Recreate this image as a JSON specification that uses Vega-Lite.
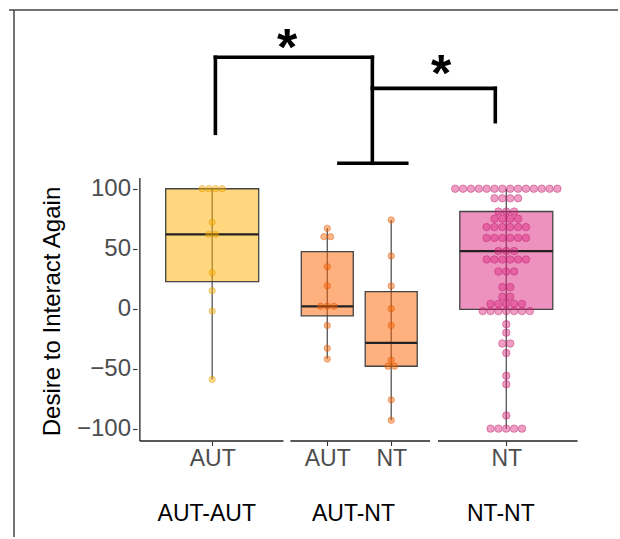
{
  "$schema": "https://vega.github.io/schema/vega-lite/v6.json",
  "usermeta": {"embedOptions": {"actions": false}},
  "width": 609,
  "height": 527,
  "autosize": {"type": "none"},
  "padding": {"left": 9, "top": 10, "right": 0, "bottom": 0},
  "background": "white",
  "config": {"view": {"stroke": null}, "font": "Liberation Sans", "axis": {"grid": false}},
  "datasets": {
    "groups": [
      {"grp": "AUT-AUT/AUT", "pair": "AUT-AUT", "role": "AUT", "pos": 1},
      {"grp": "AUT-NT/AUT", "pair": "AUT-NT", "role": "AUT", "pos": 2.8},
      {"grp": "AUT-NT/NT", "pair": "AUT-NT", "role": "NT", "pos": 3.8},
      {"grp": "NT-NT/NT", "pair": "NT-NT", "role": "NT", "pos": 5.6}
    ],
    "points": [
      {"grp": "AUT-AUT/AUT", "value": 100}, {"grp": "AUT-AUT/AUT", "value": 100}, {"grp": "AUT-AUT/AUT", "value": 100}, {"grp": "AUT-AUT/AUT", "value": 100},
      {"grp": "AUT-AUT/AUT", "value": 72}, {"grp": "AUT-AUT/AUT", "value": 62}, {"grp": "AUT-AUT/AUT", "value": 62}, {"grp": "AUT-AUT/AUT", "value": 30},
      {"grp": "AUT-AUT/AUT", "value": 15}, {"grp": "AUT-AUT/AUT", "value": -2}, {"grp": "AUT-AUT/AUT", "value": -59},
      {"grp": "AUT-NT/AUT", "value": 67}, {"grp": "AUT-NT/AUT", "value": 60}, {"grp": "AUT-NT/AUT", "value": 60}, {"grp": "AUT-NT/AUT", "value": 35},
      {"grp": "AUT-NT/AUT", "value": 19}, {"grp": "AUT-NT/AUT", "value": 2}, {"grp": "AUT-NT/AUT", "value": 2}, {"grp": "AUT-NT/AUT", "value": 2},
      {"grp": "AUT-NT/AUT", "value": -14}, {"grp": "AUT-NT/AUT", "value": -33}, {"grp": "AUT-NT/AUT", "value": -42},
      {"grp": "AUT-NT/NT", "value": 74}, {"grp": "AUT-NT/NT", "value": 44}, {"grp": "AUT-NT/NT", "value": 19}, {"grp": "AUT-NT/NT", "value": 0},
      {"grp": "AUT-NT/NT", "value": -14}, {"grp": "AUT-NT/NT", "value": -43}, {"grp": "AUT-NT/NT", "value": -48}, {"grp": "AUT-NT/NT", "value": -48},
      {"grp": "AUT-NT/NT", "value": -76}, {"grp": "AUT-NT/NT", "value": -93},
      {"grp": "NT-NT/NT", "value": 100}, {"grp": "NT-NT/NT", "value": 100}, {"grp": "NT-NT/NT", "value": 100}, {"grp": "NT-NT/NT", "value": 100},
      {"grp": "NT-NT/NT", "value": 100}, {"grp": "NT-NT/NT", "value": 100}, {"grp": "NT-NT/NT", "value": 100}, {"grp": "NT-NT/NT", "value": 100},
      {"grp": "NT-NT/NT", "value": 100}, {"grp": "NT-NT/NT", "value": 100}, {"grp": "NT-NT/NT", "value": 100}, {"grp": "NT-NT/NT", "value": 100},
      {"grp": "NT-NT/NT", "value": 100}, {"grp": "NT-NT/NT", "value": 100},
      {"grp": "NT-NT/NT", "value": 92}, {"grp": "NT-NT/NT", "value": 92}, {"grp": "NT-NT/NT", "value": 92}, {"grp": "NT-NT/NT", "value": 92},
      {"grp": "NT-NT/NT", "value": 81}, {"grp": "NT-NT/NT", "value": 81}, {"grp": "NT-NT/NT", "value": 81},
      {"grp": "NT-NT/NT", "value": 75}, {"grp": "NT-NT/NT", "value": 75}, {"grp": "NT-NT/NT", "value": 75}, {"grp": "NT-NT/NT", "value": 75},
      {"grp": "NT-NT/NT", "value": 68}, {"grp": "NT-NT/NT", "value": 68}, {"grp": "NT-NT/NT", "value": 68}, {"grp": "NT-NT/NT", "value": 68}, {"grp": "NT-NT/NT", "value": 68}, {"grp": "NT-NT/NT", "value": 68},
      {"grp": "NT-NT/NT", "value": 59}, {"grp": "NT-NT/NT", "value": 59}, {"grp": "NT-NT/NT", "value": 59}, {"grp": "NT-NT/NT", "value": 59}, {"grp": "NT-NT/NT", "value": 59}, {"grp": "NT-NT/NT", "value": 59},
      {"grp": "NT-NT/NT", "value": 48}, {"grp": "NT-NT/NT", "value": 48}, {"grp": "NT-NT/NT", "value": 48},
      {"grp": "NT-NT/NT", "value": 41}, {"grp": "NT-NT/NT", "value": 41}, {"grp": "NT-NT/NT", "value": 41}, {"grp": "NT-NT/NT", "value": 41}, {"grp": "NT-NT/NT", "value": 41}, {"grp": "NT-NT/NT", "value": 41},
      {"grp": "NT-NT/NT", "value": 31}, {"grp": "NT-NT/NT", "value": 31}, {"grp": "NT-NT/NT", "value": 31},
      {"grp": "NT-NT/NT", "value": 18}, {"grp": "NT-NT/NT", "value": 18},
      {"grp": "NT-NT/NT", "value": 10}, {"grp": "NT-NT/NT", "value": 10},
      {"grp": "NT-NT/NT", "value": 4}, {"grp": "NT-NT/NT", "value": 4}, {"grp": "NT-NT/NT", "value": 4}, {"grp": "NT-NT/NT", "value": 4}, {"grp": "NT-NT/NT", "value": 4},
      {"grp": "NT-NT/NT", "value": -2}, {"grp": "NT-NT/NT", "value": -2}, {"grp": "NT-NT/NT", "value": -2}, {"grp": "NT-NT/NT", "value": -2}, {"grp": "NT-NT/NT", "value": -2}, {"grp": "NT-NT/NT", "value": -2}, {"grp": "NT-NT/NT", "value": -2},
      {"grp": "NT-NT/NT", "value": -13}, {"grp": "NT-NT/NT", "value": -20}, {"grp": "NT-NT/NT", "value": -29}, {"grp": "NT-NT/NT", "value": -29},
      {"grp": "NT-NT/NT", "value": -37}, {"grp": "NT-NT/NT", "value": -56}, {"grp": "NT-NT/NT", "value": -63}, {"grp": "NT-NT/NT", "value": -89},
      {"grp": "NT-NT/NT", "value": -100}, {"grp": "NT-NT/NT", "value": -100}, {"grp": "NT-NT/NT", "value": -100}, {"grp": "NT-NT/NT", "value": -100}, {"grp": "NT-NT/NT", "value": -100}
    ],
    "panels": [
      {"pair": "AUT-AUT", "pos": 0.915, "y": -177},
      {"pair": "AUT-NT", "pos": 3.21, "y": -177},
      {"pair": "NT-NT", "pos": 5.515, "y": -177}
    ],
    "axislines": [
      {"x": -0.131, "x2": -0.131, "y": -110.3, "y2": 109},
      {"x": -0.131, "x2": 2.115, "y": -110.3, "y2": -110.3},
      {"x": 2.223, "x2": 4.408, "y": -110.3, "y2": -110.3},
      {"x": 4.531, "x2": 6.715, "y": -110.3, "y2": -110.3}
    ],
    "brackets": [
      {"x": 1.05, "x2": 1.05, "y": 146.2, "y2": 209.6},
      {"x": 1.05, "x2": 3.505, "y": 209.6, "y2": 209.6},
      {"x": 3.505, "x2": 3.505, "y": 209.6, "y2": 121.2},
      {"x": 2.982, "x2": 4.043, "y": 121.2, "y2": 121.2},
      {"x": 3.505, "x2": 5.428, "y": 183.7, "y2": 183.7},
      {"x": 5.428, "x2": 5.428, "y": 183.7, "y2": 155.9}
    ],
    "stars": [
      {"label": "*", "x": 2.172, "y": 203.5},
      {"label": "*", "x": 4.582, "y": 181.2}
    ]
  },
  "layer": [
    {
      "data": {"values": [{}]},
      "mark": {"type": "rule", "color": "#444444", "strokeWidth": 1.5},
      "encoding": {
        "x": {"datum": -2.1, "type": "quantitative", "scale": {"domain": [-2.1, 7.269], "nice": false, "zero": false},
          "axis": {"values": [1, 2.8, 3.8, 5.6], "labelExpr": "datum.value < 3 ? 'AUT' : 'NT'", "offset": -96, "domain": false, "ticks": true, "tickColor": "#333333", "tickSize": 4.5, "tickWidth": 1.1, "labelFontSize": 23, "labelColor": "#4d4d4d", "labelPadding": 2, "title": "", "grid": false}}
      }
    },
    {
      "data": {"values": [{}]},
      "mark": {"type": "rule", "color": "#444444", "strokeWidth": 1.5},
      "encoding": {
        "y": {"datum": 249, "type": "quantitative", "scale": {"domain": [-190.35, 249], "nice": false, "zero": false},
          "axis": {"values": [-100, -50, 0, 50, 100], "labelExpr": "replace(datum.label, '-', '−')", "offset": -128, "domain": false, "ticks": true, "tickColor": "#333333", "tickSize": 4.5, "tickWidth": 1.1, "labelFontSize": 24, "labelColor": "#4d4d4d", "labelPadding": 2, "grid": false,
            "title": "Desire to Interact Again", "titleFontSize": 24, "titleFontWeight": "normal", "titleColor": "black", "titleX": -78, "titleY": 301, "titleBaseline": "alphabetic", "titleAngle": -90, "titleAlign": "center"}}
      }
    },
    {
      "data": {"name": "points"},
      "transform": [
        {"lookup": "grp", "from": {"data": {"name": "groups"}, "key": "grp", "fields": ["pos", "pair"]}},
        {"aggregate": [
          {"op": "q1", "field": "value", "as": "q1"},
          {"op": "q3", "field": "value", "as": "q3"},
          {"op": "median", "field": "value", "as": "med"},
          {"op": "min", "field": "value", "as": "lo"},
          {"op": "max", "field": "value", "as": "hi"}
        ], "groupby": ["grp", "pair", "pos"]}
      ],
      "layer": [
        {
          "mark": {"type": "rule", "color": "#555555", "strokeWidth": 1.3},
          "encoding": {
            "x": {"field": "pos", "type": "quantitative", "scale": {"domain": [-2.1, 7.269], "nice": false, "zero": false}},
            "y": {"field": "lo", "type": "quantitative", "scale": {"domain": [-190.35, 249], "nice": false, "zero": false}},
            "y2": {"field": "hi"}
          }
        },
        {
          "transform": [{"filter": "datum.pair !== 'AUT-NT'"}],
          "mark": {"type": "bar", "width": 93, "fillOpacity": 0.5, "stroke": "#444444", "strokeWidth": 1.3},
          "encoding": {
            "x": {"field": "pos", "type": "quantitative", "scale": {"domain": [-2.1, 7.269], "nice": false, "zero": false}},
            "y": {"field": "q1", "type": "quantitative", "scale": {"domain": [-190.35, 249], "nice": false, "zero": false}},
            "y2": {"field": "q3"},
            "color": {"field": "pair", "type": "nominal", "scale": {"domain": ["AUT-AUT", "AUT-NT", "NT-NT"], "range": ["#FFB000", "#FE6100", "#DC267F"]}, "legend": null}
          }
        },
        {
          "transform": [{"filter": "datum.pair === 'AUT-NT'"}],
          "mark": {"type": "bar", "width": 52, "fillOpacity": 0.5, "stroke": "#444444", "strokeWidth": 1.3},
          "encoding": {
            "x": {"field": "pos", "type": "quantitative", "scale": {"domain": [-2.1, 7.269], "nice": false, "zero": false}},
            "y": {"field": "q1", "type": "quantitative", "scale": {"domain": [-190.35, 249], "nice": false, "zero": false}},
            "y2": {"field": "q3"},
            "color": {"field": "pair", "type": "nominal", "scale": {"domain": ["AUT-AUT", "AUT-NT", "NT-NT"], "range": ["#FFB000", "#FE6100", "#DC267F"]}, "legend": null}
          }
        },
        {
          "transform": [{"filter": "datum.pair !== 'AUT-NT'"}],
          "mark": {"type": "tick", "orient": "horizontal", "size": 93, "thickness": 2.2, "color": "#222222", "opacity": 1},
          "encoding": {
            "x": {"field": "pos", "type": "quantitative", "scale": {"domain": [-2.1, 7.269], "nice": false, "zero": false}},
            "y": {"field": "med", "type": "quantitative", "scale": {"domain": [-190.35, 249], "nice": false, "zero": false}}
          }
        },
        {
          "transform": [{"filter": "datum.pair === 'AUT-NT'"}],
          "mark": {"type": "tick", "orient": "horizontal", "size": 52, "thickness": 2.2, "color": "#222222", "opacity": 1},
          "encoding": {
            "x": {"field": "pos", "type": "quantitative", "scale": {"domain": [-2.1, 7.269], "nice": false, "zero": false}},
            "y": {"field": "med", "type": "quantitative", "scale": {"domain": [-190.35, 249], "nice": false, "zero": false}}
          }
        }
      ]
    },
    {
      "data": {"name": "points"},
      "transform": [
        {"lookup": "grp", "from": {"data": {"name": "groups"}, "key": "grp", "fields": ["pos", "pair"]}},
        {"window": [{"op": "row_number", "as": "rk"}, {"op": "count", "as": "nb"}], "groupby": ["grp", "value"], "frame": [null, null]},
        {"calculate": "datum.pos + (datum.rk - (datum.nb + 1) / 2) * (datum.pair === 'NT-NT' ? 0.123 : 0.105)", "as": "xp"}
      ],
      "mark": {"type": "circle", "fillOpacity": 0.45, "strokeOpacity": 0.55, "strokeWidth": 0.8},
      "encoding": {
        "x": {"field": "xp", "type": "quantitative", "scale": {"domain": [-2.1, 7.269], "nice": false, "zero": false}},
        "y": {"field": "value", "type": "quantitative", "scale": {"domain": [-190.35, 249], "nice": false, "zero": false}},
        "fill": {"field": "pair", "type": "nominal", "scale": {"domain": ["AUT-AUT", "AUT-NT", "NT-NT"], "range": ["#FFB000", "#FE6100", "#DC267F"]}, "legend": null},
        "stroke": {"field": "pair", "type": "nominal", "scale": {"domain": ["AUT-AUT", "AUT-NT", "NT-NT"], "range": ["#D99500", "#D65200", "#B81E68"]}, "legend": null},
        "size": {"condition": {"test": "datum.pair === 'NT-NT'", "value": 56}, "value": 40}
      }
    },
    {
      "data": {"name": "axislines"},
      "mark": {"type": "rule", "color": "#222222", "strokeWidth": 1.3},
      "encoding": {
        "x": {"field": "x", "type": "quantitative", "scale": {"domain": [-2.1, 7.269], "nice": false, "zero": false}},
        "x2": {"field": "x2"},
        "y": {"field": "y", "type": "quantitative", "scale": {"domain": [-190.35, 249], "nice": false, "zero": false}},
        "y2": {"field": "y2"}
      }
    },
    {
      "data": {"name": "brackets"},
      "mark": {"type": "rule", "color": "black", "strokeWidth": 3.6, "strokeCap": "square"},
      "encoding": {
        "x": {"field": "x", "type": "quantitative", "scale": {"domain": [-2.1, 7.269], "nice": false, "zero": false}},
        "x2": {"field": "x2"},
        "y": {"field": "y", "type": "quantitative", "scale": {"domain": [-190.35, 249], "nice": false, "zero": false}},
        "y2": {"field": "y2"}
      }
    },
    {
      "data": {"name": "stars"},
      "mark": {"type": "text", "fontSize": 52, "fontWeight": "bold", "align": "center", "baseline": "alphabetic", "color": "black"},
      "encoding": {
        "x": {"field": "x", "type": "quantitative", "scale": {"domain": [-2.1, 7.269], "nice": false, "zero": false}},
        "y": {"field": "y", "type": "quantitative", "scale": {"domain": [-190.35, 249], "nice": false, "zero": false}},
        "text": {"field": "label"}
      }
    },
    {
      "data": {"name": "panels"},
      "mark": {"type": "text", "fontSize": 23, "align": "center", "baseline": "alphabetic", "color": "black"},
      "encoding": {
        "x": {"field": "pos", "type": "quantitative", "scale": {"domain": [-2.1, 7.269], "nice": false, "zero": false}},
        "y": {"field": "y", "type": "quantitative", "scale": {"domain": [-190.35, 249], "nice": false, "zero": false}},
        "text": {"field": "pair"}
      }
    }
  ]
}
